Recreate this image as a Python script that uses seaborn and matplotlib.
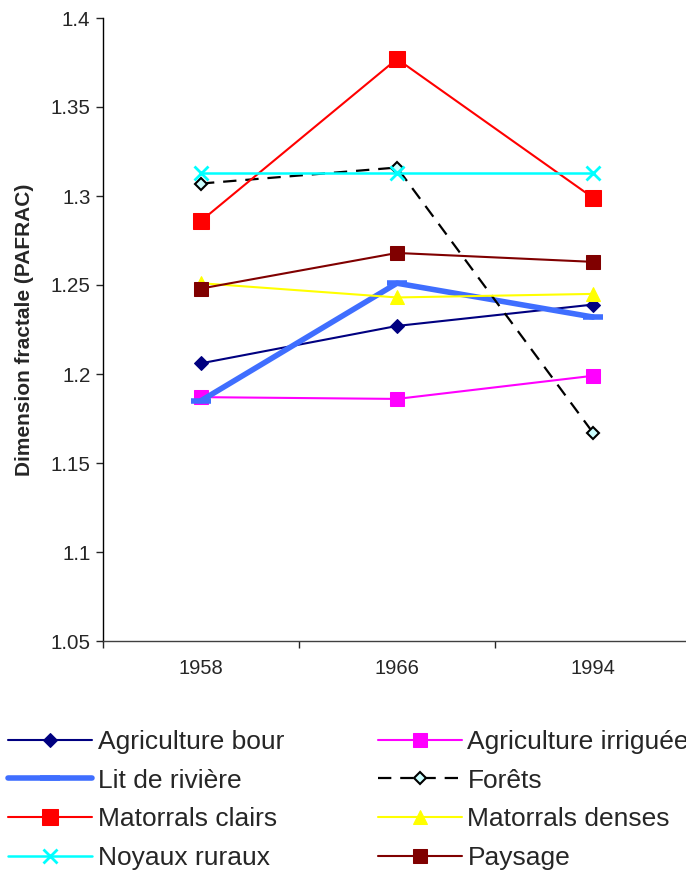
import matplotlib
matplotlib.use("Agg")
import matplotlib.pyplot as plt
import seaborn as sns
import pandas as pd

# Years of observation and PAFRAC fractal dimension for each land-cover class
years = ["1958", "1966", "1994"]
agriculture_bour = [1.206, 1.227, 1.239]
agriculture_irriguee = [1.187, 1.186, 1.199]
lit_de_riviere = [1.185, 1.251, 1.232]
forets = [1.307, 1.316, 1.167]
matorrals_clairs = [1.286, 1.377, 1.299]
matorrals_denses = [1.251, 1.243, 1.245]
noyaux_ruraux = [1.313, 1.313, 1.313]
paysage = [1.248, 1.268, 1.263]

series = [
    ("Agriculture bour", agriculture_bour),
    ("Agriculture irriguée", agriculture_irriguee),
    ("Lit de rivière", lit_de_riviere),
    ("Forêts", forets),
    ("Matorrals clairs", matorrals_clairs),
    ("Matorrals denses", matorrals_denses),
    ("Noyaux ruraux", noyaux_ruraux),
    ("Paysage", paysage),
]

styles = {
    "Agriculture bour": dict(color="#000080", marker="D", markersize=7.5, lw=1.5),
    "Agriculture irriguée": dict(color="#FF00FF", marker="s", markersize=10.5, lw=1.5),
    "Lit de rivière": dict(color="#3F6EFF", marker="_", markersize=14, mew=4, lw=4),
    "Forêts": dict(color="black", marker="D", markersize=6, lw=1.6,
                   mfc="#CCFFFF", mec="black", mew=1.5, dashes=(6, 4)),
    "Matorrals clairs": dict(color="#FF0000", marker="s", markersize=11, lw=1.5),
    "Matorrals denses": dict(color="#FFFF00", marker="^", markersize=10.5, lw=1.5),
    "Noyaux ruraux": dict(color="#00FFFF", marker="x", markersize=10, mew=2, lw=1.8),
    "Paysage": dict(color="#800000", marker="s", markersize=10.5, lw=1.5),
}

sns.set_style("ticks")
plt.rcParams["font.family"] = ["Liberation Sans", "DejaVu Sans"]

fig = plt.figure(figsize=(6.86, 8.74), dpi=100)
ax = fig.add_axes([103 / 686, 1 - 641 / 874, 588 / 686, 623 / 874])

handles = {}
for name, vals in series:
    df = pd.DataFrame({"x": range(len(years)), "y": vals})
    st = dict(styles[name])
    color = st.pop("color")
    lw = st.pop("lw")
    dashes = st.pop("dashes", None)
    st.setdefault("mec", color)
    st.setdefault("mfc", color)
    sns.lineplot(data=df, x="x", y="y", ax=ax, color=color, linewidth=lw,
                 label=name, legend=False, **st)
    line = ax.lines[-1]
    if dashes is not None:
        line.set_dashes(dashes)
    handles[name] = line

ax.set_xlim(-0.5, 2.5)
ax.set_ylim(1.05, 1.4)
ax.set_yticks([1.05, 1.1, 1.15, 1.2, 1.25, 1.3, 1.35, 1.4])
ax.set_yticklabels(["1.05", "1.1", "1.15", "1.2", "1.25", "1.3", "1.35", "1.4"])
ax.set_xticks([-0.5, 0.5, 1.5, 2.5])
ax.set_xticklabels([])
ax.set_xticks(range(len(years)), minor=True)
ax.set_xticklabels(years, minor=True)
ax.tick_params(axis="x", which="minor", length=0, pad=13, labelsize=14.5)
ax.tick_params(axis="x", which="major", length=5, width=1, direction="out")
ax.tick_params(axis="y", length=5, width=1, direction="out", labelsize=14.8, pad=4)
ax.set_xlabel("")
ax.set_ylabel("Dimension fractale (PAFRAC)", fontsize=15, fontweight="bold", labelpad=12)
for side in ("top", "right"):
    ax.spines[side].set_visible(False)
ax.spines["left"].set_color("black")
ax.spines["bottom"].set_color("#404040")
ax.spines["left"].set_linewidth(1)
ax.spines["bottom"].set_linewidth(1)

order = ["Agriculture bour", "Lit de rivière", "Matorrals clairs", "Noyaux ruraux",
         "Agriculture irriguée", "Forêts", "Matorrals denses", "Paysage"]
fig.legend([handles[n] for n in order], order, ncol=2, frameon=False,
           loc="upper left", bbox_to_anchor=(0.0, 1 - 722 / 874),
           fontsize=19, handlelength=3.2, handletextpad=0.2,
           columnspacing=3.55, labelspacing=0.56, borderaxespad=0, borderpad=0.3)

fig.savefig("out.png", dpi=100)
